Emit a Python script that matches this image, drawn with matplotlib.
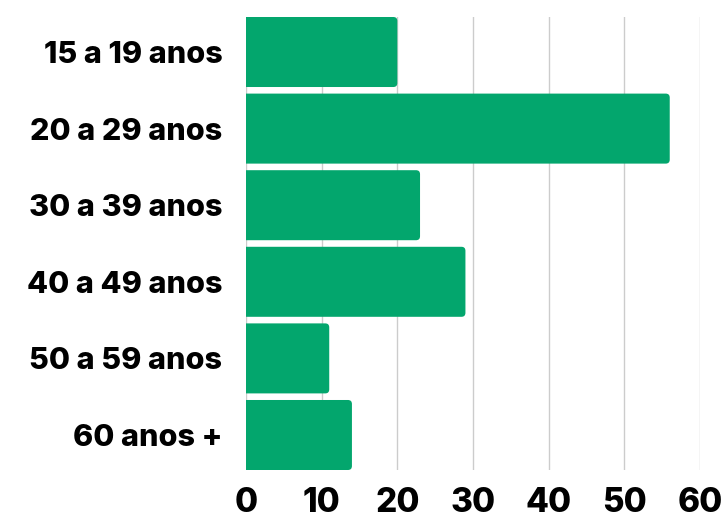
import numpy as np
import matplotlib.pyplot as plt
from matplotlib.patches import FancyBboxPatch

# data ########################################################################
categories = ['15 a 19 anos', '20 a 29 anos', '30 a 39 anos',
              '40 a 49 anos', '50 a 59 anos', '60 anos +']
values = [20, 56, 23, 29, 11, 14]
xticks = [0, 10, 20, 30, 40, 50, 60]

bar_color = '#03a66d'
bar_h = 0.914

plt.rcParams['font.family'] = ['Inter', 'DejaVu Sans']

fig = plt.figure(figsize=(7.26, 5.12), dpi=100)
ax = fig.add_axes([246/726, 1 - 470/512, 454/726, 453/512])

ax.set_xlim(0, 60)
ax.set_ylim(len(categories) - 1 + bar_h/2 + 0.0, -bar_h/2)

# rounded right corners, left edge hidden past x=0
x_per_px = 60 / 454
y_per_px = (len(categories) - 1 + bar_h) / 453
rad = 4 * x_per_px
for i, v in enumerate(values):
    p = FancyBboxPatch((-2, i - bar_h/2), v + 2, bar_h,
                       boxstyle=f'round,pad=0,rounding_size={rad}',
                       mutation_aspect=y_per_px / x_per_px,
                       facecolor=bar_color, edgecolor='none', zorder=3)
    ax.add_patch(p)

ax.set_yticks(range(len(categories)))
ax.set_yticklabels(categories)
ax.set_xticks(xticks)
ax.tick_params(axis='y', length=0, pad=17, labelsize=22)
ax.tick_params(axis='x', length=0, pad=12, labelsize=24)
for lab in ax.get_yticklabels() + ax.get_xticklabels():
    lab.set_fontweight('heavy')

ax.grid(axis='x', color='#cccccc', linewidth=1, zorder=0)
for s in ax.spines.values():
    s.set_visible(False)

fig.savefig('out.png', dpi=100)
